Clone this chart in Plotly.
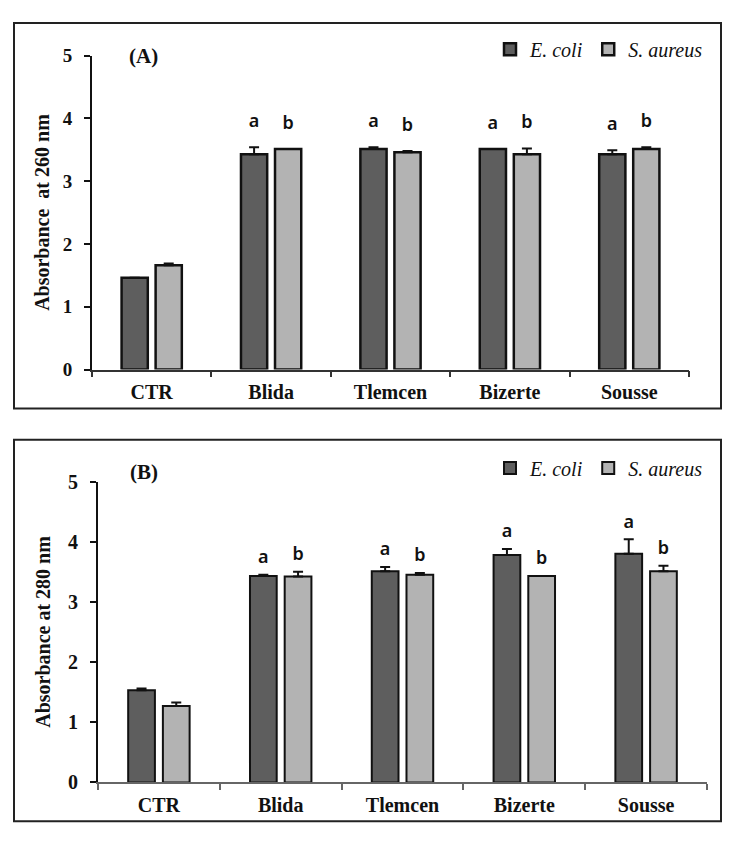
import plotly.graph_objects as go

# The page body has an 8px default margin, so the figure is drawn 8px in
# from the window's top-left corner; sizes and positions account for that.
OFF = 8
W, H = 738 - OFF, 846 - OFF

categories = ["CTR", "Blida", "Tlemcen", "Bizerte", "Sousse"]
series_names = ["E. coli", "S. aureus"]

# Panel A: absorbance at 260 nm
a260_ecoli = [1.46, 3.43, 3.51, 3.51, 3.43]
a260_ecoli_err = [0.0, 0.11, 0.03, 0.0, 0.06]
a260_saureus = [1.66, 3.51, 3.46, 3.43, 3.51]
a260_saureus_err = [0.03, 0.0, 0.02, 0.09, 0.03]
a260_letters_ecoli = ["", "a", "a", "a", "a"]
a260_letters_saureus = ["", "b", "b", "b", "b"]

# Panel B: absorbance at 280 nm
a280_ecoli = [1.53, 3.43, 3.51, 3.78, 3.80]
a280_ecoli_err = [0.03, 0.02, 0.07, 0.10, 0.24]
a280_saureus = [1.27, 3.42, 3.45, 3.43, 3.51]
a280_saureus_err = [0.06, 0.08, 0.03, 0.0, 0.09]
a280_letters_ecoli = ["", "a", "a", "a", "a"]
a280_letters_saureus = ["", "b", "b", "b", "b"]

y_ticks = [0, 1, 2, 3, 4, 5]

DARK = "#5e5e5e"
LIGHT = "#b3b3b3"
SERIF = "Liberation Serif"


def px_x(p):
    return (p - OFF) / W


def px_y(p):
    return 1 - (p - OFF) / H


fig = go.Figure()


def add_panel(xa, ya, legend, e_vals, e_err, s_vals, s_err, le, ls, lw, pad):
    for name, vals, err, col, grp, letters in [
        (series_names[0], e_vals, e_err, DARK, "ecoli", le),
        (series_names[1], s_vals, s_err, LIGHT, "saureus", ls),
    ]:
        fig.add_trace(go.Bar(
            x=categories, y=vals, name=name, xaxis=xa, yaxis=ya,
            legend=legend, offsetgroup=grp,
            marker=dict(color=col, line=dict(color="#111111", width=lw)),
            error_y=dict(type="data", array=err, arrayminus=[0] * len(err),
                         symmetric=False, color="#111111", thickness=2, width=5),
        ))
        ty = [(v + e + pad) if t else None for v, e, t in zip(vals, err, letters)]
        fig.add_trace(go.Scatter(
            x=categories, y=ty, text=letters, mode="text", xaxis=xa, yaxis=ya,
            textposition="middle center", offsetgroup=grp, showlegend=False,
            textfont=dict(family="Noto Sans", size=18, color="#111111", weight=600),
            hoverinfo="skip",
        ))


add_panel("x", "y", "legend", a260_ecoli, a260_ecoli_err, a260_saureus,
          a260_saureus_err, a260_letters_ecoli, a260_letters_saureus, 2.5, 0.39)
add_panel("x2", "y2", "legend2", a280_ecoli, a280_ecoli_err, a280_saureus,
          a280_saureus_err, a280_letters_ecoli, a280_letters_saureus, 2, 0.27)

tickfont = dict(family=SERIF, size=20, color="#111111", weight="bold")


def xaxis(domain, anchor, lc, lwid):
    return dict(domain=domain, anchor=anchor, type="category",
                showline=True, linecolor=lc, linewidth=lwid,
                ticks="outside", tickson="boundaries", ticklen=6,
                tickcolor=lc, tickwidth=1.5, showgrid=False,
                tickfont=tickfont, ticklabelstandoff=4)


def yaxis(domain, anchor, title, fs, standoff):
    return dict(domain=domain, anchor=anchor, range=[0, 5], tickvals=y_ticks,
                showline=True, linecolor="#111111", linewidth=2,
                ticks="outside", ticklen=6, tickcolor="#111111", tickwidth=2,
                showgrid=False, zeroline=False,
                tickfont=dict(family=SERIF, size=fs, color="#111111", weight="bold"),
                ticklabelstandoff=8,
                title=dict(text=title, standoff=standoff,
                           font=dict(family=SERIF, size=20, color="#111111", weight="bold")))


legend_common = dict(orientation="h", xanchor="right", yanchor="middle",
                     font=dict(family=SERIF, size=20, style="italic", color="#111111"),
                     bgcolor="rgba(0,0,0,0)", itemclick=False, traceorder="normal",
                     itemwidth=30)

fig.update_layout(
    width=W, height=H,
    margin=dict(l=0, r=0, t=0, b=0),
    paper_bgcolor="white", plot_bgcolor="white",
    barmode="group", bargap=0.43, bargroupgap=0.23,
    scattermode="group",
    showlegend=True,
    xaxis=xaxis([px_x(92), px_x(689)], "y", "#333333", 1.5),
    yaxis=yaxis([px_y(368), px_y(45.5)], "x", "Absorbance\u00a0\u00a0at 260 nm", 19, 8),
    xaxis2=xaxis([px_x(98), px_x(707)], "y2", "#666666", 1.5),
    yaxis2=yaxis([px_y(792), px_y(483)], "x2", "Absorbance at 280 nm", 20, 12),
    legend=dict(x=px_x(708), y=px_y(39), **legend_common),
    legend2=dict(x=px_x(708), y=px_y(469), **legend_common),
    shapes=[
        dict(type="rect", xref="paper", yref="paper",
             x0=px_x(14), x1=px_x(721), y0=px_y(408), y1=px_y(12),
             line=dict(color="#222222", width=2)),
        dict(type="rect", xref="paper", yref="paper",
             x0=px_x(14), x1=px_x(721), y0=px_y(832), y1=px_y(440),
             line=dict(color="#222222", width=2)),
    ],
    annotations=[
        dict(text="(A)", xref="paper", yref="paper", x=px_x(127), y=px_y(46),
             xanchor="left", yanchor="middle", showarrow=False,
             font=dict(family=SERIF, size=21, color="#111111", weight="bold")),
        dict(text="(B)", xref="paper", yref="paper", x=px_x(128), y=px_y(473),
             xanchor="left", yanchor="middle", showarrow=False,
             font=dict(family=SERIF, size=21, color="#111111", weight="bold")),
    ],
)

fig.write_html("out.html")
